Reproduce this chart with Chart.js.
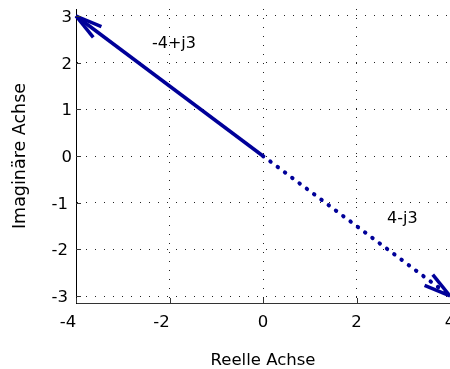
<!DOCTYPE html>
<html>
<head>
<meta charset="utf-8">
<script src="https://cdn.jsdelivr.net/npm/chart.js@4.4.1/dist/chart.umd.min.js"></script>
<style>
  html, body { margin: 0; padding: 0; background: #fff; overflow: hidden; }
  #wrap { width: 450px; height: 369px; position: relative; }
</style>
</head>
<body>
<div id="wrap"><canvas id="chart"></canvas></div>
<script>
// Zeiger in der komplexen Ebene
const phasorLabels = ['-4+j3', '4-j3'];
const phasorRe = [-4, 4];
const phasorIm = [3, -3];
const xTicks = [-4, -2, 0, 2, 4];
const yTicks = [-3, -2, -1, 0, 1, 2, 3];

const blue = '#000099';
const font = 'DejaVu Sans';

// where the two texts sit (data coords of the text's left baseline)
const textAt = [[-2.374, 2.325], [2.652, -1.425]];

const extras = {
  id: 'extras',
  afterDatasetsDraw(chart) {
    const ctx = chart.ctx;
    chart.data.datasets.forEach((ds, i) => {
      const pts = chart.getDatasetMeta(i).data;
      const a = pts[pts.length - 2], b = pts[pts.length - 1];
      const ang = Math.atan2(a.y - b.y, a.x - b.x);
      ctx.save();
      ctx.strokeStyle = ds.borderColor;
      ctx.lineWidth = 3.5;
      ctx.lineCap = 'butt';
      [-0.25, 0.25].forEach(d => {
        ctx.beginPath();
        ctx.moveTo(b.x, b.y);
        ctx.lineTo(b.x + 27.5 * Math.cos(ang + d), b.y + 27.5 * Math.sin(ang + d));
        ctx.stroke();
      });
      ctx.restore();
    });
  },
  afterDraw(chart) {
    const ctx = chart.ctx;
    const x = chart.scales.x, y = chart.scales.y;
    const area = chart.chartArea;
    ctx.save();
    // inward tick marks
    ctx.strokeStyle = '#333';
    ctx.lineWidth = 1;
    ctx.beginPath();
    xTicks.forEach(v => {
      const px = Math.round(x.getPixelForValue(v)) + 0.5;
      ctx.moveTo(px, area.bottom);
      ctx.lineTo(px, area.bottom - 5);
    });
    yTicks.forEach(v => {
      const py = Math.round(y.getPixelForValue(v)) + 0.5;
      ctx.moveTo(area.left, py);
      ctx.lineTo(area.left + 5, py);
    });
    ctx.stroke();

    // tick labels
    ctx.fillStyle = '#000';
    ctx.font = '16.5px "' + font + '"';
    ctx.textBaseline = 'alphabetic';
    ctx.textAlign = 'center';
    xTicks.forEach(v => {
      ctx.fillText(String(v), x.getPixelForValue(v) + (v < 0 ? -8 : 0), area.bottom + 24);
    });
    ctx.textAlign = 'right';
    yTicks.forEach(v => {
      ctx.fillText(String(v), area.left - (v < 0 ? 8 : 4), y.getPixelForValue(v) + 6);
    });

    // phasor names
    ctx.font = '16px "' + font + '"';
    ctx.textAlign = 'left';
    phasorLabels.forEach((t, i) => {
      ctx.fillText(t, x.getPixelForValue(textAt[i][0]), y.getPixelForValue(textAt[i][1]));
    });
    ctx.restore();
  }
};

const datasets = phasorLabels.map((name, i) => ({
  label: name,
  data: [{ x: 0, y: 0 }, { x: phasorRe[i], y: phasorIm[i] }],
  showLine: true,
  borderColor: blue,
  backgroundColor: blue,
  borderWidth: i === 0 ? 3.5 : 4,
  borderDash: i === 0 ? [] : [0.5, 8.6],
  borderCapStyle: i === 0 ? 'butt' : 'round',
  pointRadius: 0,
  clip: false
}));

new Chart(document.getElementById('chart'), {
  type: 'scatter',
  data: { datasets },
  plugins: [extras],
  options: {
    responsive: true,
    maintainAspectRatio: false,
    animation: false,
    layout: { padding: { top: 9, right: 0, bottom: 0, left: 0 } },
    plugins: { legend: { display: false }, tooltip: { enabled: false } },
    scales: {
      x: {
        type: 'linear',
        min: -4,
        max: 4,
        afterBuildTicks: s => { s.ticks = xTicks.map(v => ({ value: v })); },
        afterFit: s => { s.height = 66; s.paddingLeft = 0; s.paddingRight = 0; },
        ticks: { display: false },
        grid: { color: '#222', lineWidth: 1, drawTicks: false },
        border: { display: true, color: '#333', width: 1, dash: [1, 8] },
        title: {
          display: true,
          text: 'Reelle Achse',
          color: '#000',
          font: { family: font, size: 16.5, lineHeight: 1 },
          padding: { top: 0, bottom: 0 }
        }
      },
      y: {
        type: 'linear',
        min: -3.15,
        max: 3.15,
        afterBuildTicks: s => { s.ticks = yTicks.map(v => ({ value: v })); },
        afterFit: s => { s.width = 76; s.paddingTop = 0; s.paddingBottom = 0; },
        ticks: { display: false },
        grid: { color: '#222', lineWidth: 1, drawTicks: false },
        border: { display: true, color: '#000', width: 1, dash: [1, 8] },
        title: {
          display: true,
          text: 'Imaginäre Achse',
          color: '#000',
          font: { family: font, size: 17.5, lineHeight: 1 },
          padding: { top: 12, bottom: 0 }
        }
      }
    }
  }
});
</script>
</body>
</html>
